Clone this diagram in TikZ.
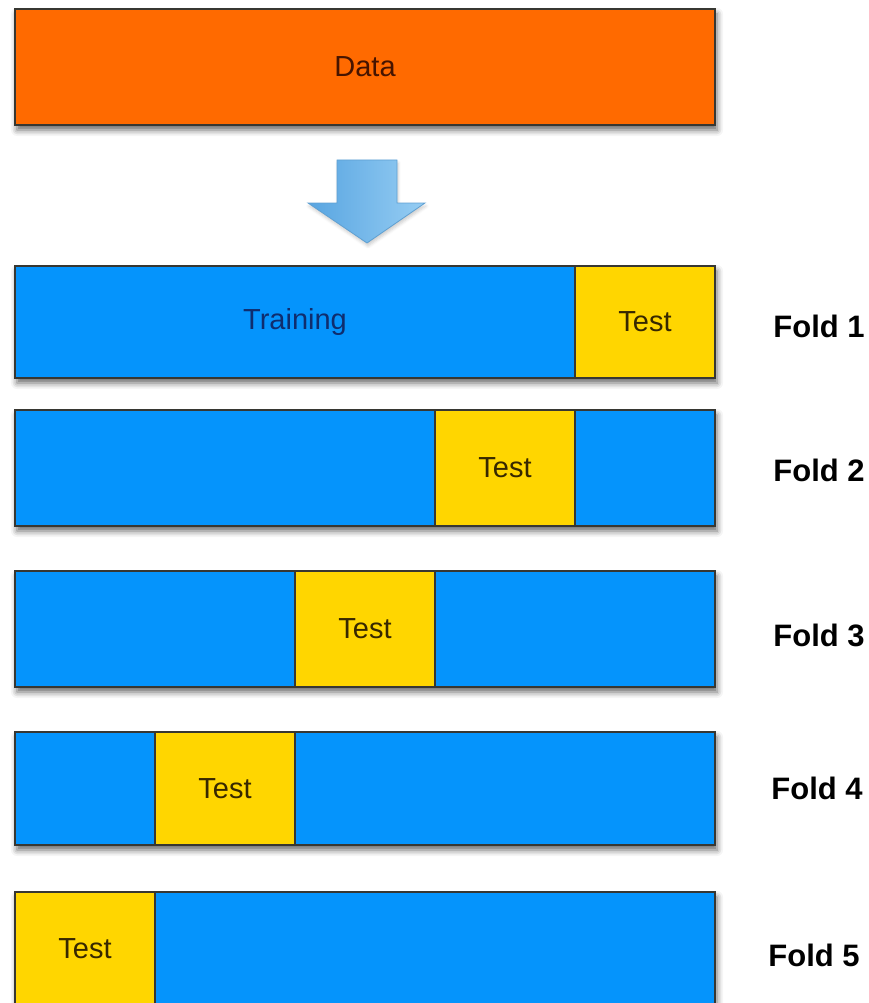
\documentclass[tikz,border=0pt]{standalone}
\usepackage{fontspec}
\setmainfont{Liberation Sans}
\usetikzlibrary{shadows.blur}
\definecolor{dataorange}{RGB}{255,106,0}
\definecolor{trainblue}{RGB}{5,148,252}
\definecolor{testyellow}{RGB}{255,214,0}
\definecolor{edgegray}{RGB}{55,55,50}
\definecolor{datatext}{RGB}{70,20,0}
\definecolor{traintext}{RGB}{15,45,110}
\definecolor{testtext}{RGB}{55,40,0}
\definecolor{arrowdark}{RGB}{88,165,225}
\definecolor{arrowlight}{RGB}{150,205,243}
\definecolor{arrowedge}{RGB}{95,160,210}
\begin{document}
\begin{tikzpicture}[x=1pt,y=-1pt,
  cell/.style={draw=edgegray, line width=1.3pt, anchor=north west,
    inner sep=0pt, outer sep=0pt, font=\fontsize{29}{31}\selectfont},
  softshadow/.style={blur shadow={shadow xshift=2pt, shadow yshift=-5pt,
      shadow blur radius=6pt, shadow opacity=60}},
  rowbox/.style={cell, fill=trainblue, minimum width=700pt, softshadow},
  testbox/.style={cell, fill=testyellow, minimum width=140pt, text=testtext},
  trainbox/.style={cell, fill=trainblue, minimum width=560pt, text=traintext},
  foldlabel/.style={font=\fontsize{31}{33}\selectfont\bfseries, text=black}]
\useasboundingbox (0,0) rectangle (868,1003);
\clip (0,0) rectangle (868,1003);

% source data
\node[cell, fill=dataorange, text=datatext, minimum width=700pt,
  minimum height=116pt, softshadow] (data) at (15,9) {Data};

% split arrow
\path[blur shadow={shadow xshift=1pt, shadow yshift=-3pt,
    shadow blur radius=3pt, shadow opacity=20},
  left color=arrowdark, right color=arrowlight, draw=arrowedge, line width=0.8pt]
  (337,160) -- (397,160) -- (397,203) -- (425,203) -- (367,243)
  -- (308,203) -- (337,203) -- cycle;

% fold 1
\node[rowbox, minimum height=112pt] (row1) at (15,266) {};
\node[trainbox, minimum height=112pt] (train1) at (15,266) {Training};
\node[testbox, minimum height=112pt] (test1) at (575,266) {Test};
\node[foldlabel] (fold1) at (819,326) {Fold 1};

% fold 2
\node[rowbox, minimum height=116pt] (row2) at (15,410) {};
\node[testbox, minimum height=116pt] (test2) at (435,410) {Test};
\node[foldlabel] (fold2) at (819,470) {Fold 2};

% fold 3
\node[rowbox, minimum height=116pt] (row3) at (15,571) {};
\node[testbox, minimum height=116pt] (test3) at (295,571) {Test};
\node[foldlabel] (fold3) at (819,635) {Fold 3};

% fold 4
\node[rowbox, minimum height=113pt] (row4) at (15,732) {};
\node[testbox, minimum height=113pt] (test4) at (155,732) {Test};
\node[foldlabel] (fold4) at (817,788) {Fold 4};

% fold 5
\node[rowbox, minimum height=120pt] (row5) at (15,892) {};
\node[testbox, minimum height=120pt] (test5) at (15,892) {};
\node[text=testtext, font=\fontsize{29}{31}\selectfont] (test5label) at (85,949) {Test};
\node[foldlabel] (fold5) at (814,955) {Fold 5};
\end{tikzpicture}
\end{document}
